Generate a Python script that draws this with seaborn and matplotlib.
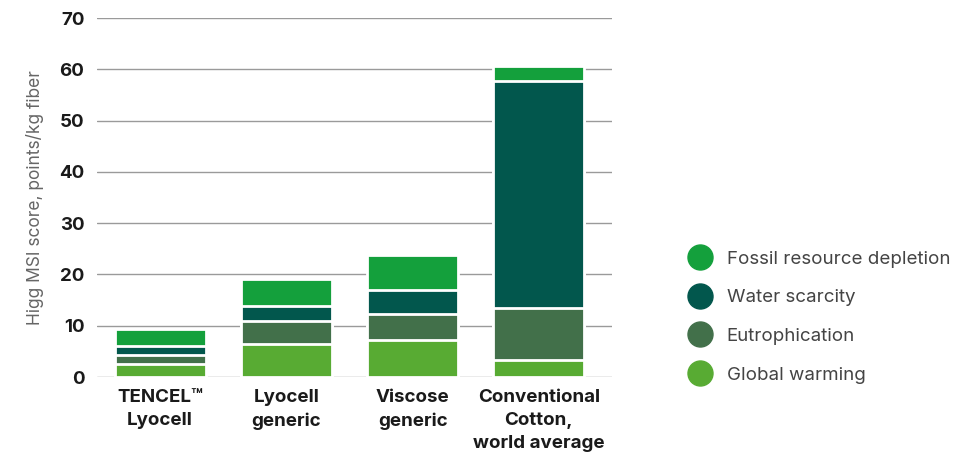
import numpy as np
import pandas as pd
import matplotlib
matplotlib.use("Agg")
import matplotlib.pyplot as plt
from matplotlib.lines import Line2D
import seaborn as sns

categories = ["TENCEL™\nLyocell", "Lyocell\ngeneric", "Viscose\ngeneric", "Conventional\nCotton,\nworld average"]
global_warming = [2.55, 6.35, 7.15, 3.25]
eutrophication = [1.8, 4.65, 5.15, 10.25]
water_scarcity = [1.75, 2.8, 4.7, 44.3]
fossil_depletion = [3.2, 5.3, 6.8, 2.8]
series_names = ["Global warming", "Eutrophication", "Water scarcity", "Fossil resource depletion"]
colors = ["#58ab33", "#42704a", "#02574d", "#14a03c"]
yticks = [0, 10, 20, 30, 40, 50, 60, 70]

sns.set_theme(style="white")
plt.rcParams['font.family'] = ['Inter', 'DejaVu Sans']

fig = plt.figure(figsize=(9.74, 4.53), dpi=100)
ax = fig.add_axes([97/974, 1-377/453, (612-97)/974, (377-18)/453])

series = [global_warming, eutrophication, water_scarcity, fossil_depletion]
cum = np.cumsum(np.array(series), axis=0)
df = pd.DataFrame({"cat": categories})
for i in range(len(series)-1, -1, -1):
    df["v"] = cum[i]
    sns.barplot(data=df, x="cat", y="v", color=colors[i], saturation=1, width=0.72,
                edgecolor="white", linewidth=2, ax=ax, zorder=3)

ax.set_ylim(0, 70)
ax.set_xlim(-0.5, 3.58)
ax.set_yticks(yticks)
ax.yaxis.grid(True, color="#9a9a9a", linewidth=1, zorder=0)
ax.set_axisbelow(True)
for s in ax.spines.values():
    s.set_visible(False)
ax.tick_params(axis='y', length=0, pad=9)
ax.tick_params(axis='x', length=0, pad=9)
for lab in ax.get_yticklabels():
    lab.set_fontweight("bold"); lab.set_fontsize(13.5); lab.set_color("#1a1a1a")
for lab in ax.get_xticklabels():
    lab.set_fontweight("bold"); lab.set_fontsize(13.5); lab.set_color("#1a1a1a")
    lab.set_linespacing(1.45)
ax.set_xlabel("")
ax.set_ylabel("Higg MSI score, points/kg fiber", fontsize=12.5, color="#666666", labelpad=11)

handles = [Line2D([0], [0], marker='o', linestyle='none', markersize=18,
                  markerfacecolor=colors[i], markeredgecolor=colors[i]) for i in range(3, -1, -1)]
labels = [series_names[i] for i in range(3, -1, -1)]
fig.legend(handles, labels, loc="center left", bbox_to_anchor=(664/974, 1-317/453),
           frameon=False, fontsize=13.5, labelspacing=1.15, handletextpad=0.45,
           labelcolor="#444444")

fig.savefig("out.png", dpi=100)
